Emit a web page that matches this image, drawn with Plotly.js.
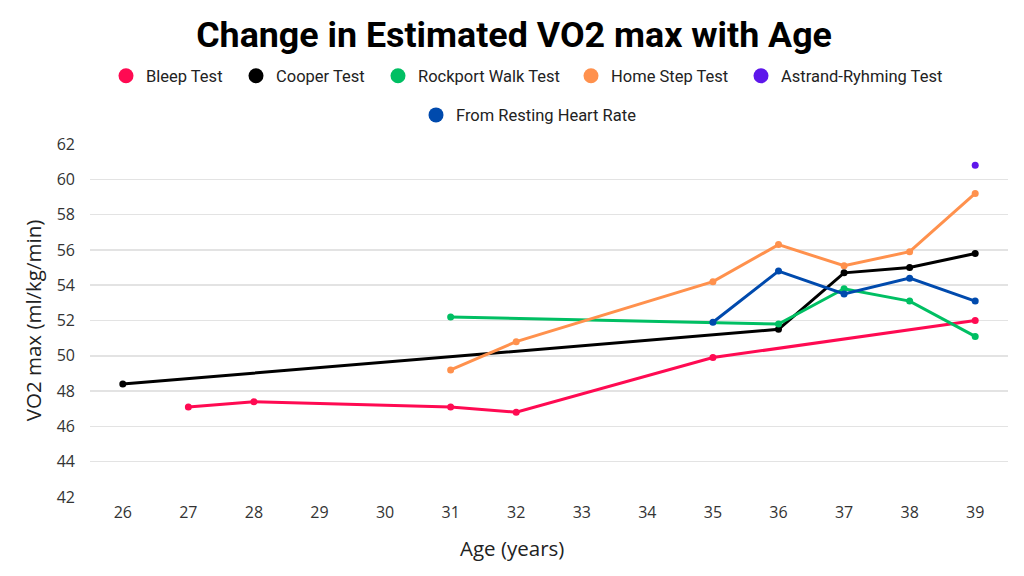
<!DOCTYPE html>
<html><head><meta charset="utf-8">
<script src="https://cdn.plot.ly/plotly-3.0.1.min.js"></script>
<style>html,body{margin:0;padding:0;background:#fff}#c{width:1024px;height:576px}</style>
</head><body><div id="c"></div>
<script>
const ageTicks = [26,27,28,29,30,31,32,33,34,35,36,37,38,39];
const bleepAge = [27,28,31,32,35,39];
const bleepVal = [47.1,47.4,47.1,46.8,49.9,52.0];
const cooperAge = [26,36,37,38,39];
const cooperVal = [48.4,51.5,54.7,55.0,55.8];
const rockportAge = [31,36,37,38,39];
const rockportVal = [52.2,51.8,53.8,53.1,51.1];
const stepAge = [31,32,35,36,37,38,39];
const stepVal = [49.2,50.8,54.2,56.3,55.1,55.9,59.2];
const astrandAge = [39];
const astrandVal = [60.8];
const rhrAge = [35,36,37,38,39];
const rhrVal = [51.9,54.8,53.5,54.4,53.1];

const names = ["Bleep Test","Cooper Test","Rockport Walk Test","Home Step Test","Astrand-Ryhming Test","From Resting Heart Rate"];
const colors = ["#ff0a52","#000000","#00bf63","#ff914d","#5e17eb","#004aad"];
const xs = [bleepAge,cooperAge,rockportAge,stepAge,astrandAge,rhrAge];
const ys = [bleepVal,cooperVal,rockportVal,stepVal,astrandVal,rhrVal];

// legend entry placement (layout only): dot centre x in px, row y in container fraction
const legendDotX = [126, 256, 398, 591, 761, 436];
const legendRowY = [0.868, 0.868, 0.868, 0.868, 0.868, 0.8];

const data = [];
for (let i = 0; i < names.length; i++) {
  data.push({
    x: xs[i], y: ys[i], type: 'scatter', mode: 'lines+markers',
    line: {color: colors[i], width: 3},
    marker: {color: colors[i], size: 7},
    showlegend: false, hoverinfo: 'x+y'
  });
}
const legendFont = {family: 'Roboto, sans-serif', size: 16.5, color: '#222'};
const layout = {
  width: 1024, height: 576,
  margin: {l: 90, r: 16, t: 144, b: 79},
  paper_bgcolor: '#fff', plot_bgcolor: '#fff',
  title: {text: '<b>Change in Estimated VO2 max with Age</b>', x: 0.502, xanchor: 'center', xref: 'container',
          y: 0.94, yref: 'container', yanchor: 'middle',
          font: {family: 'Roboto, sans-serif', size: 35.8, color: '#000'}},
  xaxis: {
    range: [25.5, 39.5], tickmode: 'array', tickvals: ageTicks, ticktext: ageTicks.map(String),
    showgrid: false, zeroline: false, showline: false, ticks: '', ticklabelstandoff: 4,
    tickfont: {family: 'Open Sans, sans-serif', size: 16, color: '#333'}
  },
  yaxis: {
    range: [42, 62], dtick: 2, tick0: 42,
    showgrid: true, gridcolor: '#e3e3e3', gridwidth: 1.5, zeroline: false, showline: false, ticks: '',
    ticklabelstandoff: 14,
    tickfont: {family: 'Open Sans, sans-serif', size: 16, color: '#333'},
    title: {text: 'VO2 max (ml/kg/min)', standoff: 9, font: {family: 'Open Sans, sans-serif', size: 20.5, color: '#222'}}
  },
  annotations: [{
    text: 'Age (years)', xref: 'paper', x: (512 - 90) / 918, yref: 'paper', y: -0.145,
    xanchor: 'center', yanchor: 'middle', showarrow: false,
    font: {family: 'Open Sans, sans-serif', size: 20.5, color: '#222'}
  }],
  showlegend: true
};
for (let i = 0; i < names.length; i++) {
  const key = i === 0 ? 'legend' : 'legend' + (i + 1);
  data.push({
    x: [null], y: [null], type: 'scatter', mode: 'markers', name: names[i],
    marker: {color: colors[i], size: 15},
    showlegend: true, legend: key
  });
  layout[key] = {orientation: 'h', x: (legendDotX[i] - 20) / 1024, xanchor: 'left', xref: 'container',
                 y: legendRowY[i], yanchor: 'middle', yref: 'container',
                 font: legendFont, itemwidth: 30, bgcolor: 'rgba(0,0,0,0)', borderwidth: 0};
}
Plotly.newPlot('c', data, layout, {displayModeBar: false, staticPlot: true});
</script>
</body></html>
